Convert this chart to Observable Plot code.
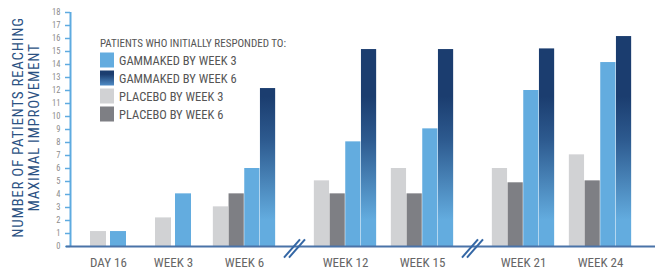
<!DOCTYPE html>
<html>
<head>
<meta charset="utf-8">
<script src="https://cdn.jsdelivr.net/npm/d3@7"></script>
<script src="https://cdn.jsdelivr.net/npm/@observablehq/plot@0.6"></script>
<style>
  html, body { margin: 0; padding: 0; background: #fff; }
  #chart svg { display: block; }
</style>
</head>
<body>
<div id="chart"></div>
<script>
// ---- data ----
const categories = ["DAY 16", "WEEK 3", "WEEK 6", "WEEK 12", "WEEK 15", "WEEK 21", "WEEK 24"];
const placeboWeek3 = [1.15, 2.2, 3.05, 5.05, 6.0, 6.0, 7.05];
const placeboWeek6 = [null, null, 4.05, 4.05, 4.05, 4.9, 5.05];
const gammakedWeek3 = [1.15, 4.05, 6.0, 8.05, 9.05, 12.0, 14.15];
const gammakedWeek6 = [null, null, 12.15, 15.15, 15.15, 15.2, 16.15];
const breaksAfter = ["WEEK 6", "WEEK 15"];
const seriesNames = ["PLACEBO BY WEEK 3", "PLACEBO BY WEEK 6", "GAMMAKED BY WEEK 3", "GAMMAKED BY WEEK 6"];
const legendOrder = ["GAMMAKED BY WEEK 3", "GAMMAKED BY WEEK 6", "PLACEBO BY WEEK 3", "PLACEBO BY WEEK 6"];
const legendTitle = "PATIENTS WHO INITIALLY RESPONDED TO:";
const yTitle = "NUMBER OF PATIENTS REACHING\nMAXIMAL IMPROVEMENT";
const yTicks = d3.range(0, 19);

// ---- styling ----
const colors = {
  "PLACEBO BY WEEK 3": "#d1d2d4",
  "PLACEBO BY WEEK 6": "#7e7f84",
  "GAMMAKED BY WEEK 3": "#63acdf",
  "GAMMAKED BY WEEK 6": "url(#gradG6)"
};
const FONT = "'Roboto Condensed', 'Open Sans', sans-serif";

// ---- layout (group centres in layout units) ----
const seriesValues = [placeboWeek3, placeboWeek6, gammakedWeek3, gammakedWeek6];
const counts = categories.map((c, i) => seriesValues.filter(s => s[i] != null).length);
const centers = [];
categories.forEach((c, i) => {
  if (i === 0) { centers.push(0); return; }
  const prev = categories[i - 1];
  const step = 53 + 6 * (counts[i - 1] + counts[i]) / 2 + (breaksAfter.includes(prev) ? 24 : 0);
  centers.push(centers[i - 1] + step);
});

const bars = [];
categories.forEach((cat, i) => {
  const present = seriesNames.map((s, k) => ({s, v: seriesValues[k][i]})).filter(d => d.v != null);
  const m = present.length;
  const slot = m === 2 ? 20 : 15.7;
  const half = m === 2 ? 8 : 7.6;
  present.forEach((d, k) => {
    const off = (k - (m - 1) / 2) * slot;
    bars.push({category: cat, series: d.s, value: d.v, x1: centers[i] + off - half, x2: centers[i] + off + half});
  });
});

const breakLinks = [];
breaksAfter.forEach(b => {
  const i = categories.indexOf(b);
  const mid = (centers[i] + centers[i + 1]) / 2;
  [-3, 2].forEach(o => breakLinks.push({x1: mid + o - 8, x2: mid + o + 8, y1: -0.85, y2: 0.55}));
});

const xDomain = [-38, 547];

const chart = Plot.plot({
  width: 655,
  height: 269,
  marginLeft: 70,
  marginRight: 0,
  marginTop: 12,
  marginBottom: 23,
  style: {fontFamily: FONT, background: "#fff"},
  x: {domain: xDomain, axis: null},
  y: {domain: [0, 18], axis: null},
  marks: [
    ...seriesNames.map(s => Plot.rectY(bars.filter(d => d.series === s), {x1: "x1", x2: "x2", y: "value", fill: colors[s]})),
    Plot.ruleX([xDomain[0]], {y1: 0, y2: 18, stroke: "#5eabe0", strokeWidth: 2}),
    Plot.ruleY(yTicks, {x1: xDomain[0] - 5, x2: xDomain[0], stroke: "#5eabe0", strokeWidth: 1.5}),
    Plot.text(yTicks, {x: xDomain[0], y: d => d, dx: -10, textAnchor: "end", fill: "#8c8c8c", fontSize: 8.5}),
    Plot.ruleY([0], {x1: xDomain[0] - 4, x2: xDomain[1], stroke: "#4a73a8", strokeWidth: 2}),
    Plot.link(breakLinks, {x1: "x1", x2: "x2", y1: "y1", y2: "y2", stroke: "#3467a5", strokeWidth: 2}),
    Plot.text(categories, {x: (d, i) => centers[i], y: 0, dy: 16.5, text: d => d, fill: "#666", fontSize: 13, lineAnchor: "middle"}),
    Plot.text([yTitle], {frameAnchor: "left", dx: -45, dy: -2, rotate: -90, fill: "#2c5283", fontSize: 15, lineHeight: 1.1, textAnchor: "middle", lineAnchor: "middle"})
  ]
});

// gradient definitions
const svg = d3.select(chart);
const ysc = chart.scale("y");
const defs = svg.insert("defs", ":first-child");
const g1 = defs.append("linearGradient").attr("id", "gradG6").attr("gradientUnits", "userSpaceOnUse")
  .attr("x1", 0).attr("x2", 0).attr("y1", ysc.apply(11.5)).attr("y2", ysc.apply(2));
g1.append("stop").attr("offset", 0).attr("stop-color", "#1b3d6f");
g1.append("stop").attr("offset", 0.35).attr("stop-color", "#2d5a8f");
g1.append("stop").attr("offset", 1).attr("stop-color", "#63acdf");
const g2 = defs.append("linearGradient").attr("id", "gradLegend").attr("x1", 0).attr("x2", 0).attr("y1", 0).attr("y2", 1);
g2.append("stop").attr("offset", 0.25).attr("stop-color", "#1b3d6f");
g2.append("stop").attr("offset", 1).attr("stop-color", "#4f8cc6");

// letter spacing on y title
svg.selectAll("text").filter(function() { return this.textContent.startsWith("NUMBER") || this.textContent.startsWith("MAXIMAL"); })
  .attr("letter-spacing", "0.7px");

// legend
const lg = svg.append("g").attr("font-family", FONT).attr("fill", "#555").attr("text-anchor", "start");
lg.append("text").attr("x", 100).attr("y", 47).attr("font-size", 11).text(legendTitle);
legendOrder.forEach((s, i) => {
  const y = 52.5 + i * 18;
  lg.append("rect").attr("x", 100).attr("y", y).attr("width", 14).attr("height", 15)
    .attr("fill", s === "GAMMAKED BY WEEK 6" ? "url(#gradLegend)" : colors[s]);
  lg.append("text").attr("x", 119).attr("y", y + 7.5).attr("dy", "0.36em").attr("font-size", 12.5).text(s);
});

document.getElementById("chart").append(chart);
</script>
</body>
</html>
